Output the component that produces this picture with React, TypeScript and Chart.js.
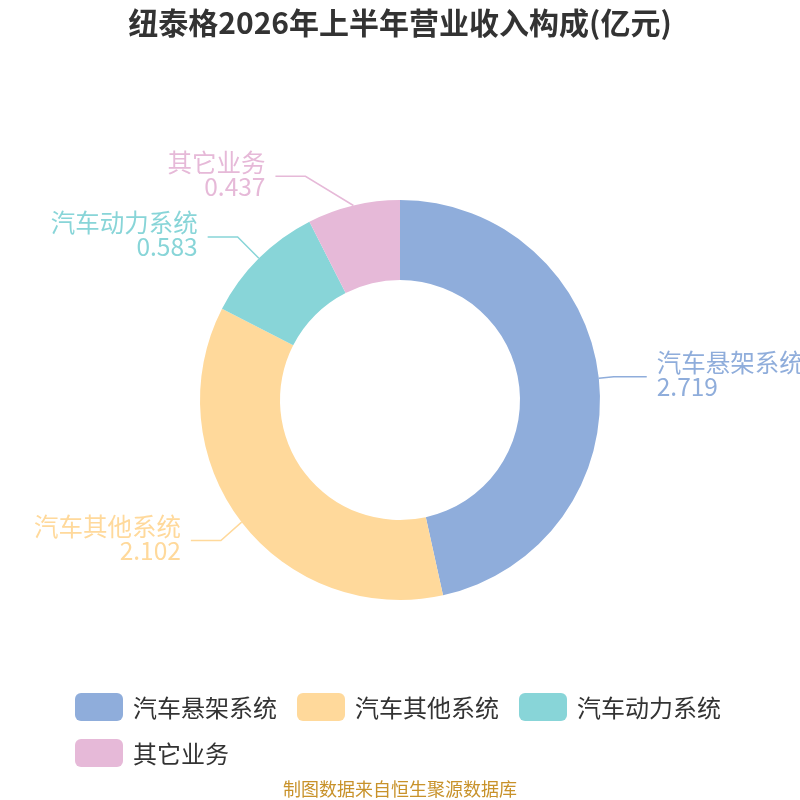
import React, { useEffect, useRef } from "react";
import { Chart, registerables } from "chart.js";

Chart.register(...registerables);

const titleText = "纽泰格2026年上半年营业收入构成(亿元)";
const footerText = "制图数据来自恒生聚源数据库";
const categories = ["汽车悬架系统", "汽车其他系统", "汽车动力系统", "其它业务"];
const values = [2.719, 2.102, 0.583, 0.437];
const valueLabels = ["2.719", "2.102", "0.583", "0.437"];
const colors = ["#8FADDB", "#FFD99B", "#88D5D8", "#E6B9D8"];
// label line styling (first segment length, extra horizontal nudge of elbow)
const labelLen1 = [15, 30, 30, 30];
const labelNudgeX = [0, 3, 0, -41];
const labelLen2 = [33, 30, 30, 30];

const FONT = "'Noto Sans CJK SC', 'Noto Sans', sans-serif";

const overlayPlugin = {
  id: "overlay",
  afterDraw(chart: any) {
    const ctx = chart.ctx as CanvasRenderingContext2D;
    const W = chart.width;
    ctx.save();
    // title
    ctx.fillStyle = "#333333";
    ctx.font = `bold 30px ${FONT}`;
    ctx.textAlign = "center";
    ctx.textBaseline = "middle";
    ctx.fillText(titleText, W / 2, 23);

    // labels
    const meta = chart.getDatasetMeta(0);
    meta.data.forEach((arc: any, i: number) => {
      const mid = (arc.startAngle + arc.endAngle) / 2;
      const cx = arc.x, cy = arc.y, R = arc.outerRadius;
      const cos = Math.cos(mid), sin = Math.sin(mid);
      const p1x = cx + R * cos, p1y = cy + R * sin;
      const ex = cx + (R + labelLen1[i]) * cos + labelNudgeX[i];
      const ey = cy + (R + labelLen1[i]) * sin;
      const dir = cos >= 0 ? 1 : -1;
      const p3x = ex + dir * labelLen2[i];
      ctx.strokeStyle = colors[i];
      ctx.lineWidth = 1.5;
      ctx.beginPath();
      ctx.moveTo(p1x, p1y);
      ctx.lineTo(ex, ey);
      ctx.lineTo(p3x, ey);
      ctx.stroke();
      ctx.fillStyle = colors[i];
      ctx.font = `24.5px ${FONT}`;
      ctx.textAlign = dir > 0 ? "left" : "right";
      ctx.textBaseline = "middle";
      const tx = p3x + dir * 10;
      ctx.fillText(categories[i], tx, ey - 14);
      ctx.fillText(valueLabels[i], tx, ey + 10);
    });

    // legend
    ctx.font = `24px ${FONT}`;
    ctx.textAlign = "left";
    ctx.textBaseline = "middle";
    const left = 75, maxRight = 735, boxW = 48, boxH = 28, rowH = 46;
    let x = left, y = 707;
    categories.forEach((c, i) => {
      const tw = ctx.measureText(c).width;
      const w = boxW + 10 + tw;
      if (x > left && x + w > maxRight) {
        x = left;
        y += rowH;
      }
      ctx.fillStyle = colors[i];
      const bx = x, by = y - boxH / 2;
      const r = 6;
      ctx.beginPath();
      ctx.moveTo(bx + r, by);
      ctx.arcTo(bx + boxW, by, bx + boxW, by + boxH, r);
      ctx.arcTo(bx + boxW, by + boxH, bx, by + boxH, r);
      ctx.arcTo(bx, by + boxH, bx, by, r);
      ctx.arcTo(bx, by, bx + boxW, by, r);
      ctx.closePath();
      ctx.fill();
      ctx.fillStyle = "#333333";
      ctx.fillText(c, x + boxW + 10, y + 1);
      x += w + 20;
    });

    // footer
    ctx.fillStyle = "#C8922A";
    ctx.font = `18px ${FONT}`;
    ctx.textAlign = "center";
    ctx.fillText(footerText, W / 2, 789);
    ctx.restore();
  },
};

export default function App() {
  const ref = useRef<HTMLCanvasElement | null>(null);
  useEffect(() => {
    if (!ref.current) return;
    const chart = new Chart(ref.current, {
      type: "doughnut",
      data: {
        labels: categories,
        datasets: [
          {
            data: values,
            backgroundColor: colors,
            borderWidth: 0,
          },
        ],
      },
      options: {
        animation: false,
        responsive: false,
        cutout: "60%",
        layout: { padding: { left: 200, right: 200, top: 200, bottom: 200 } },
        plugins: {
          legend: { display: false },
          title: { display: false },
          tooltip: { enabled: false },
        },
      },
      plugins: [overlayPlugin],
    });
    return () => chart.destroy();
  }, []);
  return (
    <div style={{ position: "absolute", left: 0, top: 0, width: 800, height: 800, background: "#fff" }}>
      <canvas ref={ref} width={800} height={800} style={{ width: 800, height: 800 }} />
    </div>
  );
}
